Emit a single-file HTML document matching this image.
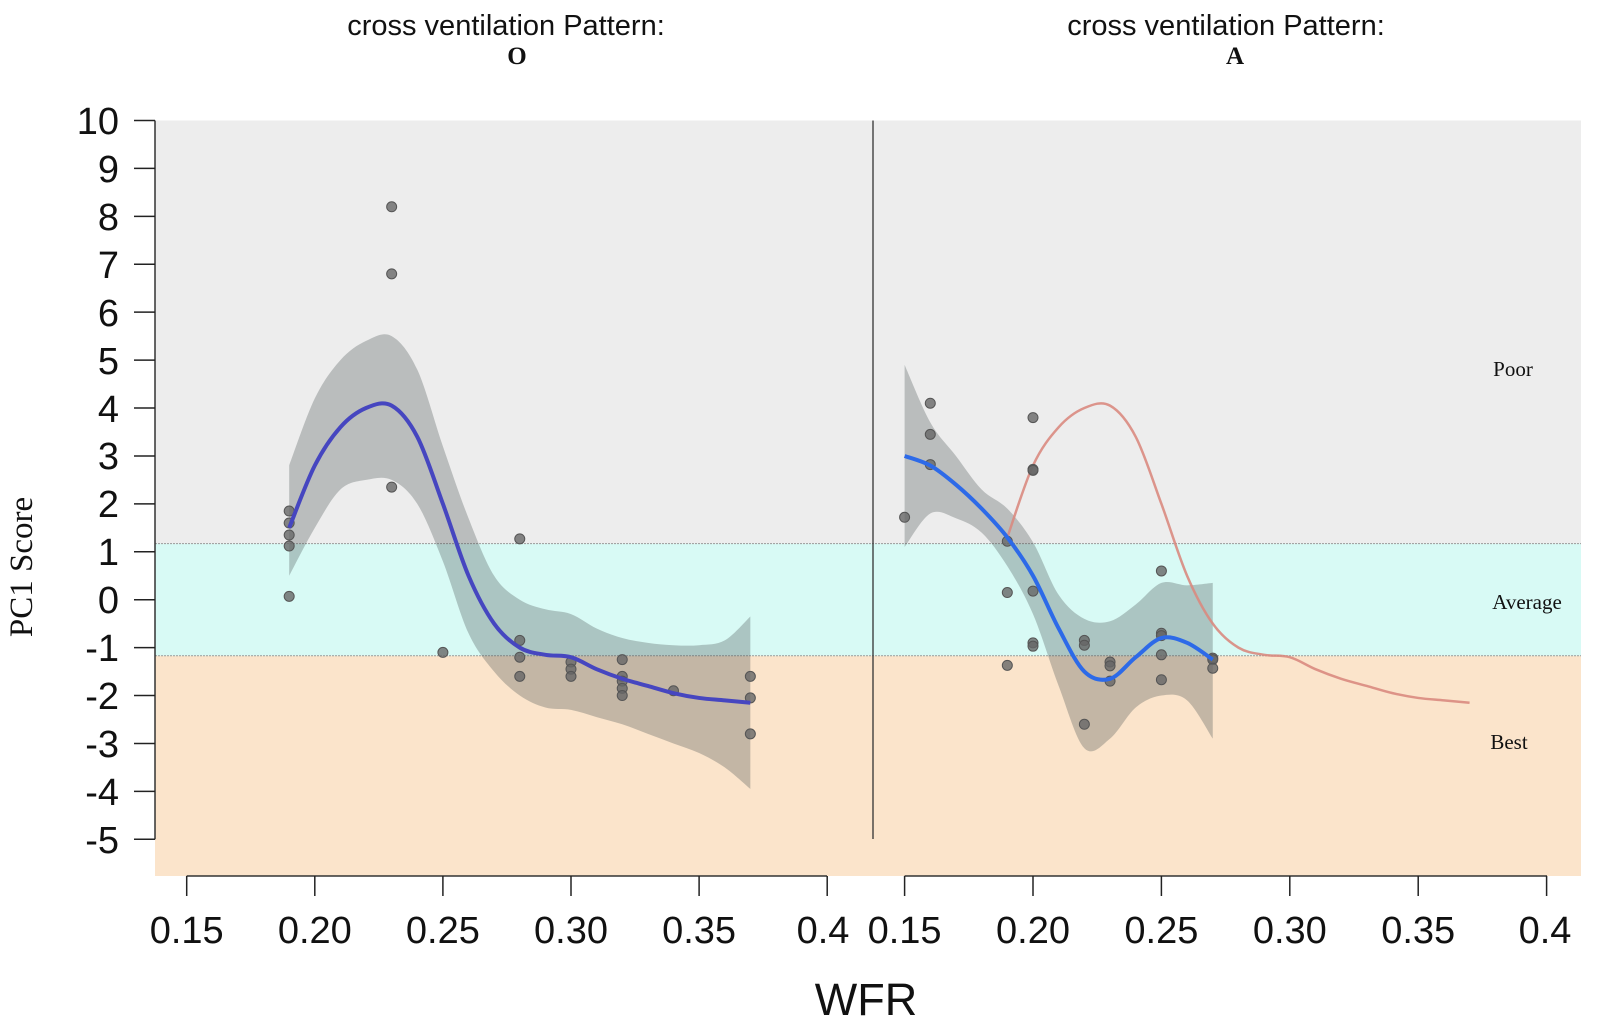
<!DOCTYPE html>
<html><head><meta charset="utf-8"><style>
html,body{margin:0;padding:0;background:#fff;width:1600px;height:1028px;overflow:hidden}
svg text{font-family:"Liberation Sans",sans-serif}
svg text.serif{font-family:"Liberation Serif",serif}
</style></head><body>
<svg id="s" width="1600" height="1028" viewBox="0 0 1600 1028">
<rect x="155" y="120.5" width="1426" height="423" fill="#ededed"/>
<rect x="155" y="543.6" width="1426" height="112.2" fill="#d8faf5"/>
<rect x="155" y="655.8" width="1426" height="220.2" fill="#fbe4cb"/>
<line x1="155" y1="543.6" x2="1581" y2="543.6" stroke="#999" stroke-width="1" stroke-dasharray="2,1"/>
<line x1="155" y1="655.8" x2="1581" y2="655.8" stroke="#999" stroke-width="1" stroke-dasharray="2,1"/>
<g id="data"></g>
<line x1="873" y1="120.5" x2="873" y2="839" stroke="#333" stroke-width="1.3"/>
<line x1="155" y1="120.5" x2="155" y2="839.3" stroke="#333" stroke-width="1.5"/>
<g id="yt" stroke="#222" stroke-width="1.5"></g>
<g font-size="38" text-anchor="end" fill="#111">
<text x="119" y="134">10</text><text x="119" y="182">9</text><text x="119" y="230">8</text><text x="119" y="278">7</text><text x="119" y="326">6</text><text x="119" y="374">5</text><text x="119" y="422">4</text><text x="119" y="469">3</text><text x="119" y="517">2</text><text x="119" y="565">1</text><text x="119" y="613">0</text><text x="119" y="661">-1</text><text x="119" y="709">-2</text><text x="119" y="757">-3</text><text x="119" y="805">-4</text><text x="119" y="853">-5</text>
</g>
<line x1="186.7" y1="876" x2="827" y2="876" stroke="#333" stroke-width="1.5"/>
<line x1="904.6" y1="876" x2="1547" y2="876" stroke="#333" stroke-width="1.5"/>
<g id="xt" stroke="#222" stroke-width="1.5"></g>
<g font-size="38" text-anchor="middle" fill="#111">
<text x="186.7" y="943">0.15</text><text x="314.8" y="943">0.20</text><text x="442.9" y="943">0.25</text><text x="571" y="943">0.30</text><text x="699.1" y="943">0.35</text><text x="823" y="943">0.4</text>
<text x="904.6" y="943">0.15</text><text x="1033" y="943">0.20</text><text x="1161.4" y="943">0.25</text><text x="1289.8" y="943">0.30</text><text x="1418.2" y="943">0.35</text><text x="1545" y="943">0.4</text>
</g>
<text x="866" y="1015" font-size="45" text-anchor="middle" fill="#111">WFR</text>
<text class="serif" transform="translate(32,567) rotate(-90)" font-size="33" text-anchor="middle" fill="#111">PC1 Score</text>
<text x="506" y="35" font-size="29" text-anchor="middle" fill="#111">cross ventilation Pattern:</text>
<text class="serif" x="517" y="64" font-size="25" font-weight="bold" text-anchor="middle" fill="#111">O</text>
<text x="1226" y="35" font-size="29" text-anchor="middle" fill="#111">cross ventilation Pattern:</text>
<text class="serif" x="1235" y="64" font-size="25" font-weight="bold" text-anchor="middle" fill="#111">A</text>
<g font-size="21" text-anchor="middle" fill="#111">
<text class="serif" x="1513" y="376">Poor</text><text class="serif" x="1527" y="609">Average</text><text class="serif" x="1509" y="749">Best</text>
</g>
</svg>
<script>
const NS="http://www.w3.org/2000/svg";
const Y=v=>120.5+(10-v)*47.92;
const XL=v=>186.7+(v-0.15)/0.05*128.1;
const XR=v=>904.6+(v-0.15)/0.05*128.4;
const g=document.getElementById('data');
function el(t,a,p){const e=document.createElementNS(NS,t);for(const k in a)e.setAttribute(k,a[k]);(p||g).appendChild(e);return e;}
function smooth(pts){let d="M"+pts[0][0]+","+pts[0][1];for(let i=0;i<pts.length-1;i++){const p0=pts[Math.max(0,i-1)],p1=pts[i],p2=pts[i+1],p3=pts[Math.min(pts.length-1,i+2)];
d+=" C"+(p1[0]+(p2[0]-p0[0])/6)+","+(p1[1]+(p2[1]-p0[1])/6)+" "+(p2[0]-(p3[0]-p1[0])/6)+","+(p2[1]-(p3[1]-p1[1])/6)+" "+p2[0]+","+p2[1];}return d;}
function ser(X,x0,arr){return arr.map((v,i)=>[X(x0+i*0.01),Y(v)]);}
function band(X,x0,up,lo){const u=ser(X,x0,up),l=ser(X,x0,lo).reverse();let d=smooth(u);d+=" L"+l[0][0]+","+l[0][1]+smooth(l).replace(/^M[^C]*/," ");return d+"Z";}
const Lc=[1.5,2.8,3.6,4.0,4.05,3.4,2.0,0.5,-0.5,-1.0,-1.15,-1.2,-1.45,-1.65,-1.8,-1.95,-2.05,-2.1,-2.15];
const Lu=[2.8,4.2,5.0,5.4,5.5,4.8,3.2,1.7,0.5,0,-0.2,-0.3,-0.6,-0.8,-0.9,-0.95,-0.95,-0.85,-0.35];
const Ll=[0.5,1.5,2.3,2.5,2.5,2.0,0.8,-0.7,-1.5,-2.0,-2.25,-2.3,-2.45,-2.6,-2.8,-3.0,-3.2,-3.5,-3.95];
const Rc=[3.0,2.8,2.4,1.9,1.3,0.5,-0.6,-1.5,-1.65,-1.2,-0.8,-0.9,-1.25];
const Ru=[4.9,3.7,3.0,2.3,1.9,1.2,0.1,-0.4,-0.45,-0.1,0.35,0.3,0.35];
const Rl=[1.1,1.8,1.7,1.4,0.7,-0.3,-1.8,-3.1,-2.9,-2.25,-2.0,-2.1,-2.9];
el('path',{d:band(XL,0.19,Lu,Ll),fill:'#4f5858','fill-opacity':0.32});
el('path',{d:band(XR,0.15,Ru,Rl),fill:'#4f5858','fill-opacity':0.32});
const red=[1.3,2.8,3.6,4.0,4.05,3.4,2.0,0.5,-0.5,-1.0,-1.15,-1.2,-1.45,-1.65,-1.8,-1.95,-2.05,-2.1,-2.15];
el('path',{d:smooth(ser(XR,0.19,red)),fill:'none',stroke:'#d98a80',"stroke-width":2.5,"stroke-opacity":0.9});
const LP=[[0.19,1.85],[0.19,1.6],[0.19,1.35],[0.19,1.12],[0.19,0.07],[0.23,8.2],[0.23,6.8],[0.23,2.35],[0.25,-1.1],[0.28,1.27],[0.28,-0.85],[0.28,-1.2],[0.28,-1.6],[0.30,-1.3],[0.30,-1.45],[0.30,-1.6],[0.32,-1.25],[0.32,-1.6],[0.32,-1.7],[0.32,-1.85],[0.32,-2.0],[0.34,-1.9],[0.37,-1.6],[0.37,-2.05],[0.37,-2.8]];
const RP=[[0.15,1.72],[0.16,4.1],[0.16,3.45],[0.16,2.82],[0.19,1.22],[0.19,0.15],[0.19,-1.37],[0.20,3.8],[0.20,2.72],[0.20,2.7],[0.20,0.18],[0.20,-0.9],[0.20,-0.97],[0.22,-0.85],[0.22,-0.95],[0.22,-2.6],[0.23,-1.3],[0.23,-1.38],[0.23,-1.7],[0.25,0.6],[0.25,-0.7],[0.25,-0.75],[0.25,-1.15],[0.25,-1.67],[0.27,-1.22],[0.27,-1.25],[0.27,-1.43]];
LP.forEach(p=>el('circle',{cx:XL(p[0]),cy:Y(p[1]),r:5,fill:'#666','fill-opacity':0.8,stroke:'#555','stroke-width':1}));
RP.forEach(p=>el('circle',{cx:XR(p[0]),cy:Y(p[1]),r:5,fill:'#666','fill-opacity':0.8,stroke:'#555','stroke-width':1}));
el('path',{d:smooth(ser(XL,0.19,Lc)),fill:'none',stroke:'#4646c0',"stroke-width":4});
el('path',{d:smooth(ser(XR,0.15,Rc)),fill:'none',stroke:'#2d6ae8',"stroke-width":4});
const yt=document.getElementById('yt');
for(let v=-5;v<=10;v++)el('line',{x1:134,x2:155,y1:Y(v),y2:Y(v)},yt);
const xt=document.getElementById('xt');
for(let i=0;i<6;i++){el('line',{x1:XL(0.15+i*0.05),x2:XL(0.15+i*0.05),y1:876,y2:896},xt);el('line',{x1:XR(0.15+i*0.05),x2:XR(0.15+i*0.05),y1:876,y2:896},xt);}
</script>
</body></html>
